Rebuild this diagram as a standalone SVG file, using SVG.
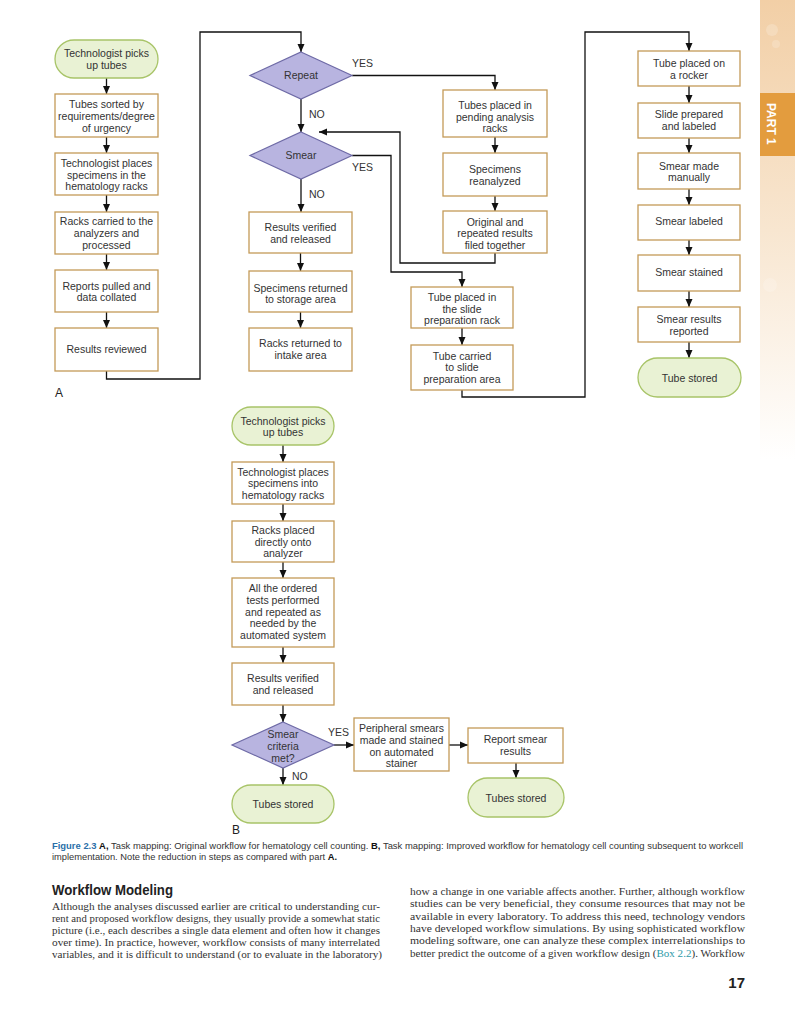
<svg xmlns="http://www.w3.org/2000/svg" width="795" height="1010" viewBox="0 0 795 1010">
<style>
.box{fill:#fff;stroke:#C49A58;stroke-width:1.3}
.term{fill:#E9F2D4;stroke:#A8C468;stroke-width:1.3}
.dia{fill:#B8B4E0;stroke:#6E6AA6;stroke-width:1.2}
.t{font-family:"Liberation Sans",Arial,sans-serif;font-size:10.5px;fill:#333;text-anchor:middle}
.lbl{font-family:"Liberation Sans",Arial,sans-serif;font-size:10.5px;fill:#333}
.c{fill:none;stroke:#111;stroke-width:1.3}
.ca{fill:none;stroke:#111;stroke-width:1.3;marker-end:url(#ah)}
.cap{font-family:"Liberation Sans",Arial,sans-serif;font-size:9px;fill:#333}
.body{font-family:"Liberation Serif","Times New Roman",serif;font-size:11px;fill:#333}
</style>
<defs>
<marker id="ah" markerUnits="userSpaceOnUse" markerWidth="8" markerHeight="8" viewBox="0 0 8 7" refX="8" refY="3.5" orient="auto">
<path d="M0,0 L8,3.5 L0,7 z" fill="#111"/>
</marker>
<linearGradient id="strip" x1="0" y1="0" x2="0" y2="1">
<stop offset="0" stop-color="#F2CFA6"/>
<stop offset="0.5" stop-color="#F8E6D0"/>
<stop offset="1" stop-color="#FFFFFF"/>
</linearGradient>
</defs>
<rect width="795" height="1010" fill="#fff"/>
<g id="side-strip">
<rect x="760" y="0" width="35" height="460" fill="url(#strip)"/>
<circle cx="772" cy="30" r="6" fill="#fff" opacity="0.2"/>
<circle cx="776" cy="44" r="4" fill="#fff" opacity="0.18"/>
<circle cx="770" cy="285" r="7" fill="#fff" opacity="0.18"/>
<rect x="760" y="93" width="35" height="63" fill="#E39C3E"/>
<text x="764" y="103" transform="rotate(90 764 103)" font-family="'Liberation Sans',Arial,sans-serif" font-size="12" font-weight="bold" fill="#fff" dy="-3">PART 1</text>
</g>

<g id="connectors">
<path class="ca" d="M106.5,78 V94"/>
<path class="ca" d="M106.5,137 V153"/>
<path class="ca" d="M106.5,195 V212"/>
<path class="ca" d="M106.5,254 V270"/>
<path class="ca" d="M106.5,312 V328"/>
<path class="ca" d="M106.5,371 V379 H200 V32 H301 V52"/>
<path class="ca" d="M352,75.5 H495 V90"/>
<path class="ca" d="M301,99 V132"/>
<path class="ca" d="M301,179 V212"/>
<path class="ca" d="M300.5,253 V271"/>
<path class="ca" d="M300.5,312 V328"/>
<path class="ca" d="M495,137 V153"/>
<path class="ca" d="M495,196 V211"/>
<path class="ca" d="M495,253 V263 H400 V132 H319"/>
<path class="ca" d="M352,155.5 H391 V272 H462 V287"/>
<path class="ca" d="M462,328 V345"/>
<path class="ca" d="M462,390 V397 H585 V32 H689 V51"/>
<path class="ca" d="M689,86 V103"/>
<path class="ca" d="M689,138 V153"/>
<path class="ca" d="M689,189 V205"/>
<path class="ca" d="M689,240 V255"/>
<path class="ca" d="M689,291 V307"/>
<path class="ca" d="M689,342 V358"/>
<path class="ca" d="M283,445 V462"/>
<path class="ca" d="M283,504 V521"/>
<path class="ca" d="M283,562 V578"/>
<path class="ca" d="M283,647 V663"/>
<path class="ca" d="M283,705 V722"/>
<path class="ca" d="M283,768 V785"/>
<path class="ca" d="M334,745 H354"/>
<path class="ca" d="M449,745 H468"/>
<path class="ca" d="M516,763 V778"/>
</g>

<g id="edge-labels">
<text class="lbl" x="352" y="67">YES</text>
<text class="lbl" x="309" y="118">NO</text>
<text class="lbl" x="352" y="171">YES</text>
<text class="lbl" x="309" y="198">NO</text>
<text class="lbl" x="328" y="736">YES</text>
<text class="lbl" x="292" y="780">NO</text>
</g>

<g id="a-start"><rect class="term" x="55" y="40" width="103" height="38" rx="19"/><text class="t" x="106.5" y="57">Technologist picks</text><text class="t" x="106.5" y="69">up tubes</text></g>
<g id="a-sorted"><rect class="box" x="55" y="94" width="103" height="43"/><text class="t" x="106.5" y="108">Tubes sorted by</text><text class="t" x="106.5" y="120">requirements/degree</text><text class="t" x="106.5" y="132">of urgency</text></g>
<g id="a-places"><rect class="box" x="55" y="153" width="103" height="42"/><text class="t" x="106.5" y="167">Technologist places</text><text class="t" x="106.5" y="179">specimens in the</text><text class="t" x="106.5" y="190">hematology racks</text></g>
<g id="a-carried"><rect class="box" x="55" y="212" width="103" height="42"/><text class="t" x="106.5" y="225">Racks carried to the</text><text class="t" x="106.5" y="237">analyzers and</text><text class="t" x="106.5" y="249">processed</text></g>
<g id="a-reports"><rect class="box" x="55" y="270" width="103" height="42"/><text class="t" x="106.5" y="290">Reports pulled and</text><text class="t" x="106.5" y="301">data collated</text></g>
<g id="a-reviewed"><rect class="box" x="55" y="328" width="103" height="43"/><text class="t" x="106.5" y="353">Results reviewed</text></g>
<text x="55" y="397" font-family="'Liberation Sans',Arial,sans-serif" font-size="12" fill="#222">A</text>

<g id="a-repeat"><polygon class="dia" points="301,52 352,75.5 301,99 250,75.5"/><text class="t" x="301" y="79">Repeat</text></g>
<g id="a-smear"><polygon class="dia" points="301,132 352,155.5 301,179 250,155.5"/><text class="t" x="301" y="159">Smear</text></g>
<g id="a-verified"><rect class="box" x="249" y="212" width="103" height="41"/><text class="t" x="300.5" y="231">Results verified</text><text class="t" x="300.5" y="243">and released</text></g>
<g id="a-storage"><rect class="box" x="249" y="271" width="103" height="41"/><text class="t" x="300.5" y="292">Specimens returned</text><text class="t" x="300.5" y="303">to storage area</text></g>
<g id="a-intake"><rect class="box" x="249" y="328" width="103" height="43"/><text class="t" x="300.5" y="347">Racks returned to</text><text class="t" x="300.5" y="359">intake area</text></g>

<g id="a-pending"><rect class="box" x="443" y="90" width="104" height="47"/><text class="t" x="495" y="109">Tubes placed in</text><text class="t" x="495" y="121">pending analysis</text><text class="t" x="495" y="132">racks</text></g>
<g id="a-reanalyzed"><rect class="box" x="443" y="153" width="104" height="43"/><text class="t" x="495" y="173">Specimens</text><text class="t" x="495" y="185">reanalyzed</text></g>
<g id="a-filed"><rect class="box" x="443" y="211" width="104" height="42"/><text class="t" x="495" y="226">Original and</text><text class="t" x="495" y="237">repeated results</text><text class="t" x="495" y="249">filed together</text></g>
<g id="a-sliderack"><rect class="box" x="411" y="287" width="102" height="41"/><text class="t" x="462" y="301">Tube placed in</text><text class="t" x="462" y="313">the slide</text><text class="t" x="462" y="324">preparation rack</text></g>
<g id="a-slidearea"><rect class="box" x="411" y="345" width="102" height="45"/><text class="t" x="462" y="360">Tube carried</text><text class="t" x="462" y="371">to slide</text><text class="t" x="462" y="383">preparation area</text></g>

<g id="a-rocker"><rect class="box" x="638" y="51" width="102" height="35"/><text class="t" x="689" y="67">Tube placed on</text><text class="t" x="689" y="79">a rocker</text></g>
<g id="a-slide"><rect class="box" x="638" y="103" width="102" height="35"/><text class="t" x="689" y="118">Slide prepared</text><text class="t" x="689" y="130">and labeled</text></g>
<g id="a-manual"><rect class="box" x="638" y="153" width="102" height="36"/><text class="t" x="689" y="170">Smear made</text><text class="t" x="689" y="181">manually</text></g>
<g id="a-labeled"><rect class="box" x="638" y="205" width="102" height="35"/><text class="t" x="689" y="225">Smear labeled</text></g>
<g id="a-stained"><rect class="box" x="638" y="255" width="102" height="36"/><text class="t" x="689" y="276">Smear stained</text></g>
<g id="a-reported"><rect class="box" x="638" y="307" width="102" height="35"/><text class="t" x="689" y="323">Smear results</text><text class="t" x="689" y="335">reported</text></g>
<g id="a-stored"><rect class="term" x="638" y="358" width="103" height="39" rx="19.5"/><text class="t" x="689.5" y="382">Tube stored</text></g>

<g id="b-start"><rect class="term" x="232" y="407" width="102" height="38" rx="19"/><text class="t" x="283" y="425">Technologist picks</text><text class="t" x="283" y="436">up tubes</text></g>
<g id="b-places"><rect class="box" x="232" y="462" width="102" height="42"/><text class="t" x="283" y="476">Technologist places</text><text class="t" x="283" y="487">specimens into</text><text class="t" x="283" y="499">hematology racks</text></g>
<g id="b-analyzer"><rect class="box" x="232" y="521" width="102" height="41"/><text class="t" x="283" y="534">Racks placed</text><text class="t" x="283" y="546">directly onto</text><text class="t" x="283" y="557">analyzer</text></g>
<g id="b-tests"><rect class="box" x="232" y="578" width="102" height="69"/><text class="t" x="283" y="592">All the ordered</text><text class="t" x="283" y="604">tests performed</text><text class="t" x="283" y="616">and repeated as</text><text class="t" x="283" y="627">needed by the</text><text class="t" x="283" y="639">automated system</text></g>
<g id="b-verified"><rect class="box" x="232" y="663" width="102" height="42"/><text class="t" x="283" y="682">Results verified</text><text class="t" x="283" y="694">and released</text></g>
<g id="b-criteria"><polygon class="dia" points="283,722 334,745 283,768 232,745"/><text class="t" x="283" y="738">Smear</text><text class="t" x="283" y="750">criteria</text><text class="t" x="283" y="762">met?</text></g>
<g id="b-peripheral"><rect class="box" x="354" y="718" width="95" height="53"/><text class="t" x="401.5" y="732">Peripheral smears</text><text class="t" x="401.5" y="744">made and stained</text><text class="t" x="401.5" y="756">on automated</text><text class="t" x="401.5" y="767">stainer</text></g>
<g id="b-report"><rect class="box" x="468" y="728" width="95" height="35"/><text class="t" x="515.5" y="743">Report smear</text><text class="t" x="515.5" y="755">results</text></g>
<g id="b-stored-right"><rect class="term" x="468" y="778" width="96" height="39" rx="19.5"/><text class="t" x="516" y="802">Tubes stored</text></g>
<g id="b-stored-left"><rect class="term" x="232" y="785" width="102" height="38" rx="19"/><text class="t" x="283" y="808">Tubes stored</text></g>
<text x="232" y="834" font-family="'Liberation Sans',Arial,sans-serif" font-size="12" fill="#222">B</text>

<g id="caption">
<text class="cap" x="52" y="849" textLength="691" lengthAdjust="spacingAndGlyphs"><tspan font-weight="bold" fill="#2A6FA8">Figure 2.3</tspan>  <tspan font-weight="bold" fill="#111">A,</tspan> Task mapping: Original workflow for hematology cell counting. <tspan font-weight="bold" fill="#111">B,</tspan> Task mapping: Improved workflow for hematology cell counting subsequent to workcell</text>
<text class="cap" x="52" y="860" textLength="285" lengthAdjust="spacingAndGlyphs">implementation. Note the reduction in steps as compared with part <tspan font-weight="bold" fill="#111">A.</tspan></text>
</g>

<g id="article">
<text x="52" y="895" font-family="'Liberation Sans',Arial,sans-serif" font-size="14.5" font-weight="bold" fill="#222" textLength="121" lengthAdjust="spacingAndGlyphs">Workflow Modeling</text>
<text class="body" x="52" y="910" textLength="328" lengthAdjust="spacingAndGlyphs">Although the analyses discussed earlier are critical to understanding cur-</text>
<text class="body" x="52" y="922" textLength="328" lengthAdjust="spacingAndGlyphs">rent and proposed workflow designs, they usually provide a somewhat static</text>
<text class="body" x="52" y="934" textLength="328" lengthAdjust="spacingAndGlyphs">picture (i.e., each describes a single data element and often how it changes</text>
<text class="body" x="52" y="946" textLength="328" lengthAdjust="spacingAndGlyphs">over time). In practice, however, workflow consists of many interrelated</text>
<text class="body" x="52" y="958" textLength="330" lengthAdjust="spacingAndGlyphs">variables, and it is difficult to understand (or to evaluate in the laboratory)</text>
<text class="body" x="410" y="895" textLength="335" lengthAdjust="spacingAndGlyphs">how a change in one variable affects another. Further, although workflow</text>
<text class="body" x="410" y="907" textLength="335" lengthAdjust="spacingAndGlyphs">studies can be very beneficial, they consume resources that may not be</text>
<text class="body" x="410" y="920" textLength="335" lengthAdjust="spacingAndGlyphs">available in every laboratory. To address this need, technology vendors</text>
<text class="body" x="410" y="932" textLength="335" lengthAdjust="spacingAndGlyphs">have developed workflow simulations. By using sophisticated workflow</text>
<text class="body" x="410" y="944" textLength="335" lengthAdjust="spacingAndGlyphs">modeling software, one can analyze these complex interrelationships to</text>
<text class="body" x="410" y="957" textLength="335" lengthAdjust="spacingAndGlyphs">better predict the outcome of a given workflow design (<tspan fill="#2E9AA8">Box 2.2</tspan>). Workflow</text>
<text x="745" y="988" font-family="'Liberation Sans',Arial,sans-serif" font-size="15" font-weight="bold" fill="#222" text-anchor="end">17</text>
</g>
</svg>
